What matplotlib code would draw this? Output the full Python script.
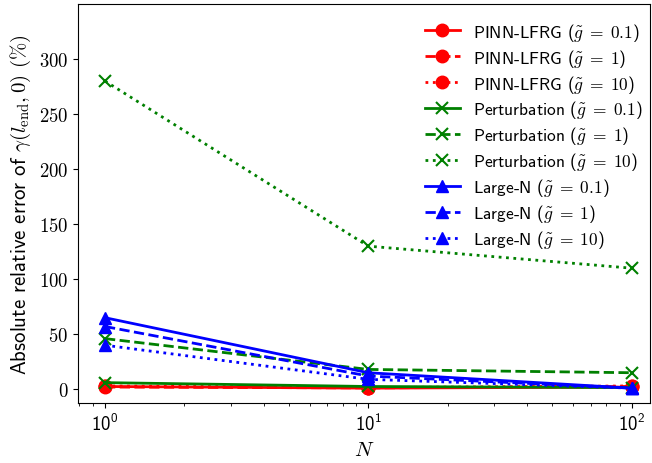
import matplotlib
matplotlib.use("Agg")
import matplotlib.pyplot as plt
from matplotlib.ticker import FuncFormatter

plt.rcParams['mathtext.fontset'] = 'cm'
plt.rcParams['font.family'] = ['cmss10', 'DejaVu Sans']
plt.rcParams['axes.unicode_minus'] = False

N = [1, 10, 100]
g_labels = ['0.1', '1', '10']

# absolute relative error (%) for g = 0.1, 1, 10
pinn = [[2.5, 1.0, 2.0], [2.0, 1.2, 2.5], [3.0, 1.5, 3.0]]
pert = [[6.0, 2.5, 1.5], [46.0, 18.0, 15.0], [280.0, 130.0, 110.0]]
large_n = [[65.0, 15.0, 1.0], [57.0, 12.0, 1.0], [40.0, 9.0, 1.0]]

styles = ['-', '--', ':']

fig = plt.figure(figsize=(6.52, 4.64), dpi=100)
ax = fig.add_axes([78 / 652, 60 / 464, 572 / 652, 399 / 464])

for vals, ls, g in zip(pinn, styles, g_labels):
    ax.plot(N, vals, color='red', ls=ls, lw=2, marker='o', ms=9,
            label=r'PINN-LFRG ($\tilde{g}\;=\;' + g + '$)')
for vals, ls, g in zip(pert, styles, g_labels):
    ax.plot(N, vals, color='green', ls=ls, lw=2, marker='x', ms=9, mew=1.5,
            label=r'Perturbation ($\tilde{g}\;=\;' + g + '$)')
for vals, ls, g in zip(large_n, styles, g_labels):
    ax.plot(N, vals, color='blue', ls=ls, lw=2, marker='^', ms=9,
            label=r'Large-N ($\tilde{g}\;=\;' + g + '$)')

ax.set_xscale('log')
ax.set_xlim(10 ** -0.1025, 10 ** 2.07)
ax.set_ylim(-12.5, 350)
ax.set_yticks([0, 50, 100, 150, 200, 250, 300])
ax.yaxis.set_major_formatter(FuncFormatter(lambda v, p: f'${v:g}$'))
ax.tick_params(labelsize=13.5)

ax.set_xlabel(r'$N$', fontsize=15)
ax.set_ylabel(r'Absolute relative error of $\gamma(l_{\mathrm{end}},\mathbf{0})$ $(\%)$',
              fontsize=15)

ax.legend(loc='upper right', bbox_to_anchor=(1.0, 0.976), frameon=False,
          fontsize=12.5, handlelength=2.0, borderaxespad=0.0,
          labelspacing=0.23, handletextpad=0.8)

fig.savefig('out.png', dpi=100)
